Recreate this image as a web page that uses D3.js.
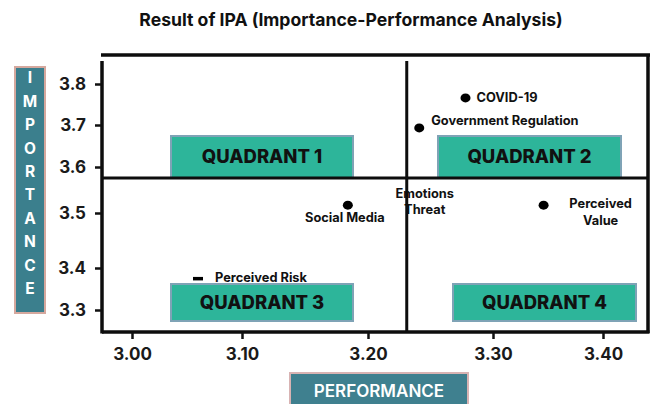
<!DOCTYPE html>
<html>
<head>
<meta charset="utf-8">
<script src="https://cdn.jsdelivr.net/npm/d3@7"></script>
<style>
  body { margin: 0; background: #fff; }
  svg { display: block; font-family: Inter, "Open Sans", sans-serif; font-weight: 700; }
</style>
</head>
<body>
<div id="canvas"></div>
<script>
// data
var factors = ['COVID-19', 'Government Regulation', 'Social Media', 'Emotions Threat', 'Perceived Value', 'Perceived Risk'];
var performance = [3.278, 3.241, 3.184, 3.231, 3.346, 3.060];
var importance = [3.766, 3.693, 3.517, 3.527, 3.517, 3.374];
var markers = ['dot', 'dot', 'dot', 'none', 'dot', 'dash'];
var xTicks = [3.00, 3.10, 3.20, 3.30, 3.40];
var yTicks = [3.3, 3.4, 3.5, 3.6, 3.7, 3.8];
var meanPerformance = 3.231,
    meanImportance = 3.576;
var quadrantNames = ['QUADRANT 1', 'QUADRANT 2', 'QUADRANT 3', 'QUADRANT 4'];

var W = 653, H = 404;
var frame = {l: 102, r: 648, t: 55, b: 332};

var svg = d3.select('#canvas').append('svg')
    .attr('width', W)
    .attr('height', H);

// the axis in the picture is not evenly spaced, so use a polylinear scale
var scaleX = d3.scaleLinear()
    .domain(xTicks)
    .range([132, 242, 368, 493, 603]);
var scaleY = d3.scaleLinear()
    .domain(yTicks)
    .range([310, 268, 213, 167, 125, 84]);

var points = factors.map(function(f, i){
  return {name: f, x: performance[i], y: importance[i], marker: markers[i]};
});

// title
svg.append('text')
    .attr('x', 351)
    .attr('y', 26)
    .attr('text-anchor', 'middle')
    .attr('font-size', 17.6)
    .attr('fill', '#111')
    .text('Result of IPA (Importance-Performance Analysis)');

// quadrant boxes (under the lines)
var qx = scaleX(meanPerformance), qy = scaleY(meanImportance);
var quadBoxes = [
  {x: 171, y: 136, w: 182, h: qy - 136},
  {x: 438, y: 136, w: 183, h: qy - 136},
  {x: 171, y: 284, w: 182, h: 37},
  {x: 453, y: 284, w: 183, h: 37}
];
var quads = svg.selectAll('.quad')
    .data(quadrantNames)
    .enter()
    .append('g')
    .attr('class', 'quad');
quads.append('rect')
    .attr('x', function(d,i){ return quadBoxes[i].x })
    .attr('y', function(d,i){ return quadBoxes[i].y })
    .attr('width', function(d,i){ return quadBoxes[i].w })
    .attr('height', function(d,i){ return quadBoxes[i].h })
    .attr('fill', '#2db59a')
    .attr('stroke', '#7fa3b6')
    .attr('stroke-width', 2);
quads.append('text')
    .attr('x', function(d,i){ return quadBoxes[i].x + quadBoxes[i].w/2 })
    .attr('y', function(d,i){ return quadBoxes[i].y + (i < 2 ? 21 : 19) })
    .attr('dy', '0.35em')
    .attr('text-anchor', 'middle')
    .attr('font-size', 18.5)
    .attr('font-weight', 800)
    .attr('fill', '#111')
    .text(function(d){ return d });

// point labels
var labelPos = {
  'COVID-19': {dx: 11, dy: [0], anchor: 'start'},
  'Government Regulation': {dx: 12, dy: [-7], anchor: 'start'},
  'Social Media': {dx: -3, dy: [12], anchor: 'middle'},
  'Emotions Threat': {dx: 18, dy: [-7, 9], anchor: 'middle'},
  'Perceived Value': {dx: 57, dy: [-2, 15], anchor: 'middle'},
  'Perceived Risk': {dx: 17, dy: [-1], anchor: 'start'}
};

var pts = svg.selectAll('.pt')
    .data(points)
    .enter()
    .append('g')
    .attr('class', 'pt')
    .attr('transform', function(d){ return 'translate(' + scaleX(d.x) + ',' + scaleY(d.y) + ')' });

pts.each(function(d){
  var g = d3.select(this), p = labelPos[d.name];
  var lines = p.dy.length > 1 ? d.name.split(' ') : [d.name];
  lines.forEach(function(t, k){
    g.append('text')
      .attr('x', p.dx)
      .attr('y', p.dy[k])
      .attr('dy', '0.35em')
      .attr('text-anchor', p.anchor)
      .attr('font-size', 12.8)
      .attr('fill', '#111')
      .text(t);
  });
  if (d.marker == 'dot') {
    g.append('ellipse').attr('rx', 5).attr('ry', 4.5).attr('fill', '#000');
  } else if (d.marker == 'dash') {
    g.append('rect').attr('x', -5).attr('y', -2).attr('width', 10).attr('height', 3.5).attr('fill', '#000');
  }
});

// frame and quadrant dividers
var lines = [
  [frame.l - 1, frame.t, frame.r + 2, frame.t],
  [frame.r, frame.t, frame.r, frame.b + 1],
  [frame.l, frame.t + 6, frame.l, frame.b + 1.5],
  [frame.l, frame.b, frame.r + 1.5, frame.b],
  [frame.l, qy, frame.r, qy],
  [qx, frame.t + 6, qx, frame.b]
];
svg.selectAll('.frame')
    .data(lines)
    .enter()
    .append('line')
    .attr('class', 'frame')
    .attr('x1', function(d){ return d[0] })
    .attr('y1', function(d){ return d[1] })
    .attr('x2', function(d){ return d[2] })
    .attr('y2', function(d){ return d[3] })
    .attr('stroke', '#0d0d0d')
    .attr('stroke-width', function(d,i){ return i < 4 ? 3.5 : 3 });

// axes
var axisX = d3.axisBottom(scaleX)
    .tickValues(xTicks)
    .tickSize(6)
    .tickPadding(9)
    .tickFormat(d3.format('.2f'));
var gx = svg.append('g')
    .attr('transform', 'translate(0,' + (frame.b + 1) + ')')
    .call(axisX);
gx.select('.domain').remove();
gx.selectAll('line').attr('stroke', '#111').attr('stroke-width', 2.5);
gx.selectAll('text')
    .attr('font-size', 17)
    .attr('font-family', 'Inter, sans-serif')
    .attr('font-weight', 700)
    .attr('fill', '#1a1a1a');

var axisY = d3.axisLeft(scaleY)
    .tickValues(yTicks)
    .tickSize(6)
    .tickPadding(9)
    .tickFormat(d3.format('.1f'));
var gy = svg.append('g')
    .attr('transform', 'translate(' + (frame.l - 1) + ',0)')
    .call(axisY);
gy.select('.domain').remove();
gy.selectAll('line').attr('stroke', '#111').attr('stroke-width', 2.5);
gy.selectAll('text')
    .attr('font-size', 17)
    .attr('font-family', 'Inter, sans-serif')
    .attr('font-weight', 700)
    .attr('fill', '#1a1a1a');

// axis title boxes
svg.append('rect')
    .attr('x', 15).attr('y', 67)
    .attr('width', 30).attr('height', 246)
    .attr('fill', '#3b7f8d')
    .attr('stroke', '#d5a89e')
    .attr('stroke-width', 2);
svg.append('g')
    .selectAll('text')
    .data('IMPORTANCE'.split(''))
    .enter()
    .append('text')
    .attr('x', 30)
    .attr('y', function(d,i){ return 78 + i * 23.4 })
    .attr('dy', '0.35em')
    .attr('text-anchor', 'middle')
    .attr('font-size', 15.5)
    .attr('font-weight', 700)
    .attr('fill', '#fff')
    .text(function(d){ return d });

svg.append('rect')
    .attr('x', 290).attr('y', 373)
    .attr('width', 178).attr('height', 40)
    .attr('fill', '#3f808f')
    .attr('stroke', '#d8b3b3')
    .attr('stroke-width', 2);
svg.append('text')
    .attr('x', 379)
    .attr('y', 391)
    .attr('dy', '0.35em')
    .attr('text-anchor', 'middle')
    .attr('font-size', 17)
    .attr('font-weight', 600)
    .attr('fill', '#fff')
    .text('PERFORMANCE');
</script>
</body>
</html>
